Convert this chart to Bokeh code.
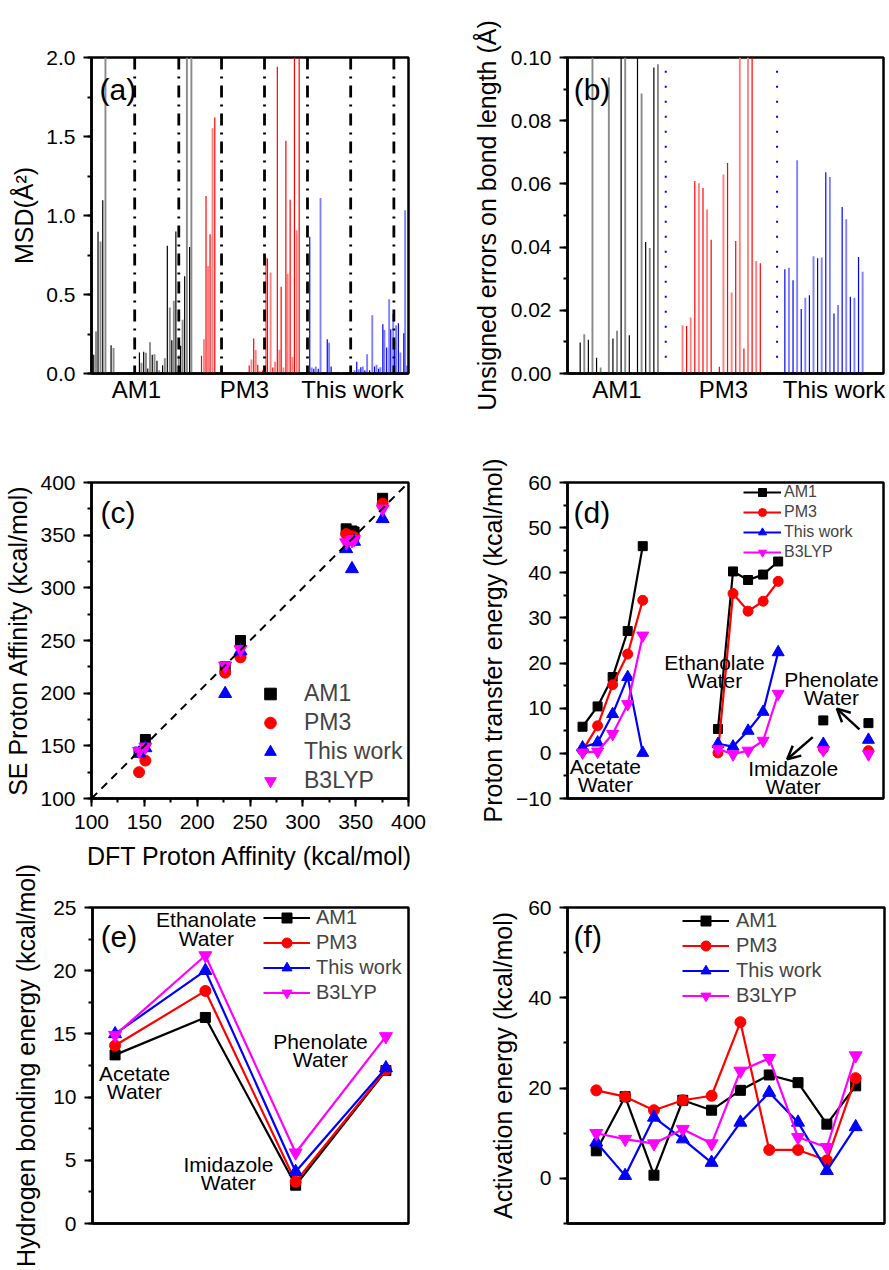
from bokeh.plotting import figure
from bokeh.layouts import column, row
from bokeh.models import (Span, Label, Legend, LegendItem, SingleIntervalTicker, FixedTicker,
                          PrintfTickFormatter, Arrow, OpenHead, Slope, Range1d)
from bokeh.core.properties import value
from bokeh.embed import file_html
from bokeh.resources import INLINE

FONT = "Liberation Sans"

# ---------------- panel (a): MSD per bond index ----------------
a_am1_x = [1.0, 2.0, 2.9, 4.0, 5.0, 6.2, 8.7, 9.8, 21.3, 22.2, 23.2, 24.2, 25.0, 26.0, 27.0, 28.0,
           29.1, 30.1, 31.6, 32.6, 33.7, 34.8, 35.7, 36.6, 37.5, 38.8, 39.6, 40.5, 41.4, 42.4, 43.6, 44.4]
a_am1_y = [0.118, 0.266, 0.897, 0.835, 1.097, 2.0, 0.179, 0.162, 0.133, 0.068, 0.137, 0.131, 0.032,
           0.198, 0.118, 0.122, 0.080, 0.021, 0.053, 0.097, 0.808, 0.418, 0.211, 0.460, 0.899, 0.116,
           0.175, 0.340, 0.616, 2.0, 0.800, 2.0]
a_pm3_x = [48.9, 50.0, 50.9, 51.8, 52.7, 53.8, 54.8, 57.8, 59.1, 60.9, 62.7, 64.4, 66.2, 68.0, 70.1,
           71.1, 72.1, 73.0, 73.9, 74.8, 76.0, 77.5, 78.2, 79.6, 80.6, 81.6, 82.6, 83.5, 84.3, 85.3,
           86.4, 87.2, 88.3, 89.3, 90.2, 91.2, 92.3]
a_pm3_y = [0.112, 0.217, 1.124, 0.681, 0.882, 1.553, 1.620, 0.044, 0.006, 0.005, 0.006, 0.004, 0.006,
           0.010, 0.050, 0.088, 0.222, 0.148, 0.055, 0.015, 0.020, 0.734, 0.728, 0.639, 0.038, 0.074,
           1.941, 0.150, 0.549, 0.038, 1.473, 0.629, 1.099, 0.105, 2.0, 0.907, 2.0]
a_tw_x = [97.0, 97.9, 98.8, 99.7, 100.8, 101.8, 104.8, 105.6, 106.5, 111.1, 114.7, 116.9, 117.9, 118.8,
          119.7, 120.6, 121.5, 122.5, 123.6, 124.8, 125.8, 126.7, 127.6, 128.4, 129.5, 130.2, 131.2,
          132.3, 133.0, 134.1, 134.7, 135.4, 136.4, 137.3, 138.8, 139.4, 140.3]
a_tw_y = [0.865, 0.038, 0.030, 0.045, 0.030, 1.110, 0.217, 0.195, 0.045, 0.010, 0.008, 0.020, 0.074,
          0.027, 0.040, 0.044, 0.020, 0.122, 0.020, 0.369, 0.044, 0.055, 0.030, 0.040, 0.312, 0.276,
          0.165, 0.470, 0.280, 0.376, 0.220, 0.306, 0.318, 0.133, 0.255, 1.034, 0.049]
a_separators = [19.2, 38.8, 57.8, 76.9, 96.0, 115.2, 134.4]
a_group_ticks = [20, 68, 116]
group_names = ["AM1", "PM3", "This work"]

# ---------------- panel (b): unsigned bond-length errors ----------------
b_am1_x = list(range(1, 21))
b_am1_y = [0.0098, 0.0124, 0.0107, 0.10, 0.0050, 0.0019, 0.0, 0.0937, 0.0111, 0.0135, 0.10, 0.10,
           0.0121, 0.0005, 0.10, 0.0886, 0.0416, 0.0397, 0.0968, 0.0979]
b_pm3_x = list(range(26, 46))
b_pm3_y = [0.0153, 0.0150, 0.0177, 0.0609, 0.0602, 0.0587, 0.0519, 0.0423, 0.0, 0.0021, 0.0630,
           0.0666, 0.0256, 0.0419, 0.10, 0.0079, 0.10, 0.10, 0.0356, 0.0349]
b_tw_x = list(range(51, 71))
b_tw_y = [0.0330, 0.0335, 0.0295, 0.0675, 0.0204, 0.0240, 0.0248, 0.0371, 0.0365, 0.0367, 0.0637,
          0.0622, 0.0190, 0.0217, 0.0527, 0.0488, 0.0243, 0.0240, 0.0369, 0.0322]
b_separators = [21.9, 49.1]
b_sep_span = [0.005, 0.096]
b_group_ticks = [10, 36, 63]

# ---------------- panel (c): proton affinity ----------------
c_dft = [145, 151, 226.5, 241, 341, 346.5, 348.5, 375.5]
c_am1 = [144, 156, 225, 250, 356, 354, 353, 385]
c_pm3 = [125, 136, 219.5, 234, 351, 349, 348, 380]
c_tw = [143, 148, 199.5, 240, 337, 318, 344, 365.5]
c_b3 = [145, 149, 226, 241.5, 343, 345, 346, 375]

# ---------------- panel (d): proton transfer energy ----------------
d_x = [1, 2, 3, 4, 5, 10, 11, 12, 13, 14, 17, 20]
d_group = ["acetate"] * 5 + ["ethanolate"] * 5 + ["imidazole", "phenolate"]
d_am1 = [5.9, 10.4, 16.9, 27.1, 45.9, 5.4, 40.3, 38.4, 39.6, 42.5, 7.3, 6.7]
d_pm3 = [0.6, 6.1, 15.2, 22.0, 33.9, 0.1, 35.4, 31.5, 33.7, 38.1, 1.0, 0.6]
d_tw = [1.3, 2.4, 8.7, 16.9, 0.1, 2.1, 1.5, 5.0, 9.2, 22.4, 2.1, 3.0]
d_b3 = [0.2, 0.4, 4.3, 10.9, 26.1, 1.0, -0.2, 0.6, 2.8, 13.2, 0.7, -0.2]
d_notes = ["Acetate\nWater", "Ethanolate\nWater", "Imidazole\nWater", "Phenolate\nWater"]
d_note_x = [2.52, 9.77, 15.0, 17.54]
d_note_y = [-4.9, 18.1, -5.35, 14.3]
d_arrows = [(16.3, 3.6, 14.6, -1.3), (19.4, 5.3, 17.9, 9.9)]

# ---------------- panel (e): hydrogen bonding energy ----------------
e_x = [1, 2, 3, 4]
e_am1 = [13.34, 16.3, 3.03, 12.1]
e_pm3 = [14.08, 18.4, 3.3, 12.15]
e_tw = [15.0, 20.0, 4.1, 12.3]
e_b3 = [14.9, 21.2, 5.6, 14.8]
e_notes = ["Acetate\nWater", "Ethanolate\nWater", "Imidazole\nWater", "Phenolate\nWater"]
e_note_x = [1.215, 2.01, 2.256, 3.275]
e_note_y = [11.15, 23.3, 3.95, 13.7]

# ---------------- panel (f): activation energy ----------------
f_x = [1, 2, 3, 4, 5, 6, 7, 8, 9, 10]
f_am1 = [6.1, 18.1, 0.7, 17.3, 15.1, 19.5, 22.9, 21.2, 12.0, 20.5]
f_pm3 = [19.5, 18.1, 15.1, 17.3, 18.3, 34.6, 6.3, 6.3, 4.0, 22.2]
f_tw = [8.0, 0.6, 13.5, 8.7, 3.5, 12.4, 19.0, 12.4, 1.7, 11.4]
f_b3 = [10.0, 8.7, 7.7, 10.9, 7.7, 23.8, 26.6, 9.1, 6.9, 27.2]

methods = ["AM1", "PM3", "This work", "B3LYP"]
colors = ["#000000", "#ff0000", "#0000ff", "#ff00ff"]
markers = ["square", "circle", "triangle", "inverted_triangle"]

OVERLAP = 18  # bottom row is pulled up so its long y label is not cut


def base_fig(width, height, left, right, top, bottom, xr, yr):
    p = figure(width=width, height=height, x_range=Range1d(*xr), y_range=Range1d(*yr),
               output_backend="svg", toolbar_location=None,
               min_border_left=left, min_border_right=right,
               min_border_top=top, min_border_bottom=bottom)
    p.grid.visible = False
    p.outline_line_color = "black"
    p.outline_line_width = 2.5
    p.outline_line_alpha = 1
    p.background_fill_color = "white"
    p.border_fill_color = "white"
    for ax in p.axis:
        ax.axis_line_width = 2.5
        ax.major_tick_line_width = 2
        ax.minor_tick_line_width = 2
        ax.major_tick_out = 8
        ax.major_tick_in = 0
        ax.minor_tick_out = 4
        ax.minor_tick_in = 0
        ax.major_label_standoff = 8
        ax.major_label_text_font = FONT
        ax.major_label_text_font_size = "21px"
        ax.major_label_text_color = "black"
        ax.axis_label_text_font = FONT
        ax.axis_label_text_font_size = "25px"
        ax.axis_label_text_font_style = "normal"
        ax.axis_label_text_color = "black"
    return p


def no_x_ticks(p):
    p.xaxis.ticker = FixedTicker(ticks=[])
    p.xaxis.major_tick_out = 0
    p.xaxis.minor_tick_out = 0


def group_axis(p, ticks):
    p.xaxis.ticker = FixedTicker(ticks=ticks)
    p.xaxis.major_label_overrides = {t: n for t, n in zip(ticks, group_names)}
    p.xaxis.major_tick_out = 0
    p.xaxis.minor_tick_out = 0
    p.xaxis.major_label_standoff = 2
    p.xaxis.major_label_text_font_size = "24px"


def panel_letter(p, x, y, txt):
    p.add_layout(Label(x=x, y=y, text=txt, text_font=FONT, text_font_size="30px",
                       text_baseline="middle", text_align="left", text_color="black"))


def bars(p, xs, ys, dark, light, light_flags):
    dx = [x for x, f in zip(xs, light_flags) if not f]
    dy = [y for y, f in zip(ys, light_flags) if not f]
    lx = [x for x, f in zip(xs, light_flags) if f]
    ly = [y for y, f in zip(ys, light_flags) if f]
    p.segment(x0=lx, y0=[0] * len(lx), x1=lx, y1=ly, line_color=light, line_width=1.9)
    p.segment(x0=dx, y0=[0] * len(dx), x1=dx, y1=dy, line_color=dark, line_width=1.2)


def make_legend(items, loc, gw, gh, standoff, fsize):
    return Legend(items=items, location=loc, padding=0, margin=0, spacing=0,
                  glyph_width=gw, glyph_height=gh, label_height=gh, label_standoff=standoff,
                  label_text_font=FONT, label_text_font_size=fsize,
                  border_line_alpha=0, background_fill_alpha=0)


# ---- (a)
pa = base_fig(444, 410, 91, 36, 57, 37, (0, 140.9), (0, 2.0))
pa.yaxis.ticker = SingleIntervalTicker(interval=0.5, num_minor_ticks=2)
pa.yaxis.formatter = PrintfTickFormatter(format="%.1f")
pa.yaxis.axis_label = "MSD(Å²)"
pa.yaxis.axis_label_standoff = 5
group_axis(pa, a_group_ticks)
for xs, ys, dk, lt in [(a_am1_x, a_am1_y, "#000000", "#8a8a8a"),
                       (a_pm3_x, a_pm3_y, "#ff0000", "#ff8080"),
                       (a_tw_x, a_tw_y, "#0000ff", "#8080ff")]:
    bars(pa, xs, ys, dk, lt, [i % 2 == 1 for i in range(len(xs))])
for s in a_separators:
    pa.add_layout(Span(location=s, dimension="height", line_color="black", line_width=2.8,
                       line_dash="12 7 2 7"))
panel_letter(pa, 3.6, 1.80, "(a)")

# ---- (b)
pb = base_fig(445, 410, 123, 6, 57, 37, (-2.1, 75.1), (0, 0.10))
pb.yaxis.ticker = SingleIntervalTicker(interval=0.02, num_minor_ticks=2)
pb.yaxis.formatter = PrintfTickFormatter(format="%.2f")
pb.yaxis.axis_label = "Unsigned errors on bond length (Å)"
pb.yaxis.axis_label_standoff = 7
group_axis(pb, b_group_ticks)
for xs, ys, dk, lt in [(b_am1_x, b_am1_y, "#000000", "#8a8a8a"),
                       (b_pm3_x, b_pm3_y, "#ff0000", "#ff8080"),
                       (b_tw_x, b_tw_y, "#0000ff", "#8080ff")]:
    bars(pb, xs, ys, dk, lt, [x % 2 == 0 for x in xs])
pb.segment(x0=b_separators, y0=[b_sep_span[0]] * len(b_separators), x1=b_separators,
           y1=[b_sep_span[1]] * len(b_separators), line_color="#0000ff", line_width=2,
           line_dash="2 13")
panel_letter(pb, -0.6, 0.090, "(b)")

# ---- (c)
pc = base_fig(444, 466, 91, 36, 72, 78, (100, 400), (100, 400))
pc.xaxis.ticker = SingleIntervalTicker(interval=50, num_minor_ticks=2)
pc.yaxis.ticker = SingleIntervalTicker(interval=50, num_minor_ticks=2)
pc.xaxis.axis_label = "DFT Proton Affinity (kcal/mol)"
pc.yaxis.axis_label = "SE Proton Affinity (kcal/mol)"
pc.yaxis.axis_label_standoff = 5
pc.xaxis.axis_label_standoff = 10
pc.add_layout(Slope(gradient=1, y_intercept=0, line_color="black", line_width=2, line_dash="8 6"))
c_items = []
for name, ys, col, mk, sz in zip(methods, [c_am1, c_pm3, c_tw, c_b3], colors, markers, [10, 11, 13, 13]):
    r = pc.scatter(c_dft, ys, marker=mk, size=sz, color=col)
    c_items.append(LegendItem(label=name, renderers=[r]))
pc.add_layout(make_legend(c_items, (164, 3), 30, 29, 19, "23px"))
panel_letter(pc, 108.5, 371.5, "(c)")

# ---- (d)
pd_ = base_fig(445, 466, 123, 6, 72, 78, (0, 21), (-10, 60))
pd_.yaxis.ticker = SingleIntervalTicker(interval=10, num_minor_ticks=2)
pd_.yaxis.axis_label = "Proton transfer energy (kcal/mol)"
pd_.yaxis.axis_label_standoff = 6
no_x_ticks(pd_)
d_items = []
for name, ys, col, mk, sz in zip(methods, [d_am1, d_pm3, d_tw, d_b3], colors, markers, [9, 10, 12, 12]):
    rl = None
    for g in dict.fromkeys(d_group):
        gx = [x for x, gg in zip(d_x, d_group) if gg == g]
        gy = [y for y, gg in zip(ys, d_group) if gg == g]
        if len(gx) > 1:
            r = pd_.line(gx, gy, line_color=col, line_width=2.2)
            rl = rl or r
    rs = pd_.scatter(d_x, ys, marker=mk, size=sz, color=col)
    d_items.append(LegendItem(label=name, renderers=[rl, rs]))
pd_.add_layout(make_legend(d_items, (176, 236), 38, 20, 3, "16px"))
pd_.text(x=d_note_x, y=d_note_y, text=d_notes, text_font=value(FONT), text_font_size="21px",
         text_align="center", text_baseline="middle", text_line_height=0.8, text_color="black")
for xs_, ys_, xe, ye in d_arrows:
    pd_.add_layout(Arrow(end=OpenHead(size=13, line_width=2.5, line_color="black"),
                         x_start=xs_, y_start=ys_, x_end=xe, y_end=ye,
                         line_width=2.5, line_color="black"))
panel_letter(pd_, 0.4, 53.4, "(d)")

# ---- (e)
pe = base_fig(444, 394 + OVERLAP, 92, 36, 31 + OVERLAP, 47, (0.75, 4.25), (0, 25))
pe.border_fill_alpha = 0
pe.yaxis.ticker = SingleIntervalTicker(interval=5, num_minor_ticks=2)
pe.yaxis.axis_label = "Hydrogen bonding energy (kcal/mol)"
pe.yaxis.axis_label_standoff = 10
no_x_ticks(pe)
e_items = []
for name, ys, col, mk, sz in zip(methods, [e_am1, e_pm3, e_tw, e_b3], colors, markers, [10, 11, 13, 13]):
    rl = pe.line(e_x, ys, line_color=col, line_width=2.2)
    rs = pe.scatter(e_x, ys, marker=mk, size=sz, color=col)
    e_items.append(LegendItem(label=name, renderers=[rl, rs]))
pe.add_layout(make_legend(e_items, (171, 218), 47, 25, 6, "20px"))
pe.text(x=e_note_x, y=e_note_y, text=e_notes, text_font=value(FONT), text_font_size="21px",
        text_align="center", text_baseline="middle", text_line_height=0.8, text_color="black")
panel_letter(pe, 0.84, 22.7, "(e)")

# ---- (f)
pf = base_fig(445, 394 + OVERLAP, 123, 5, 31 + OVERLAP, 47, (0, 11), (-10, 60))
pf.border_fill_alpha = 0
pf.yaxis.ticker = SingleIntervalTicker(interval=20, num_minor_ticks=2)
pf.yaxis.axis_label = "Activation energy (kcal/mol)"
pf.yaxis.axis_label_standoff = 8
no_x_ticks(pf)
f_items = []
for name, ys, col, mk, sz in zip(methods, [f_am1, f_pm3, f_tw, f_b3], colors, markers, [10, 11, 13, 13]):
    rl = pf.line(f_x, ys, line_color=col, line_width=2.2)
    rs = pf.scatter(f_x, ys, marker=mk, size=sz, color=col)
    f_items.append(LegendItem(label=name, renderers=[rl, rs]))
pf.add_layout(make_legend(f_items, (115, 215), 47, 25, 7, "20px"))
panel_letter(pf, 0.21, 53.6, "(f)")

bottom_row = row(pe, pf, styles={"margin-top": f"-{OVERLAP}px"})
layout = column(row(pa, pb), row(pc, pd_), bottom_row)
with open("out.html", "w", encoding="utf-8") as fh:
    fh.write(file_html(layout, INLINE))
